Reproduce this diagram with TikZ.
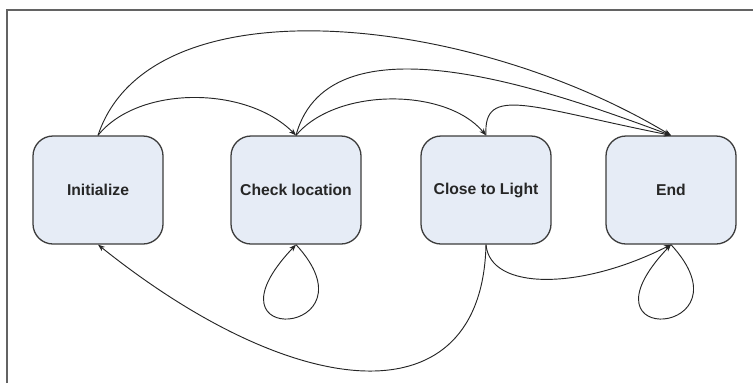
\documentclass[tikz,border=0pt]{standalone}
\usepackage{fontspec}
\setmainfont{Liberation Sans}
\usetikzlibrary{arrows.meta}

\definecolor{boxfill}{RGB}{230,236,246}
\definecolor{boxline}{RGB}{60,60,60}

\tikzset{
    statebox/.style={draw=boxline, line width=1.1pt, fill=boxfill, rounded corners=0.6cm,
        minimum width=3.9cm, minimum height=3.24cm, inner sep=0pt,
        font=\fontsize{13.4}{16}\selectfont\bfseries, text=black!85},
    trans/.style={draw=black!85, line width=0.8pt, -{Stealth[length=6pt,width=4.5pt]}}
}

\begin{document}
\begin{tikzpicture}[x=0.03cm, y=-0.03cm]
    \useasboundingbox (0,0) rectangle (753,383);
% outer frame
    \draw[boxline!80, line width=1.5pt] (7,383) -- (7,10) -- (753,10);
% states
    \node[statebox] (initialize) at (98,190) {Initialize};
    \node[statebox] (checkloc) at (296,190) {Check location};
    \node[statebox] (closelight) at (486,190) {Close to Light};
    \node[statebox] (finish) at (671,190) {End};
% transitions over the top
    \draw[trans] (initialize.north) .. controls +(40,-50) and +(-50,-50) .. (checkloc.north);
    \draw[trans] (initialize.north) .. controls +(52,-156) and +(-201,-121) .. (finish.north);
    \draw[trans] (checkloc.north) .. controls +(40,-48) and +(-40,-48) .. (closelight.north);
    \draw[trans] (checkloc.north) .. controls +(34,-126) and +(-111,-41) .. (finish.north);
    \draw[trans] (closelight.north) .. controls +(-3,-51) and +(-141,-28) .. (finish.north);
% transitions underneath
    \draw[trans] (checkloc.south) .. controls +(84,91) and +(-101,106) .. (checkloc.south);
    \draw[trans] (finish.south) .. controls +(84,91) and +(-101,106) .. (finish.south);
    \draw[trans] (closelight.south) .. controls +(4,46) and +(-91,46) .. (finish.south);
    \draw[trans] (closelight.south) .. controls +(-4,176) and +(200,160) .. (initialize.south);
\end{tikzpicture}
\end{document}
